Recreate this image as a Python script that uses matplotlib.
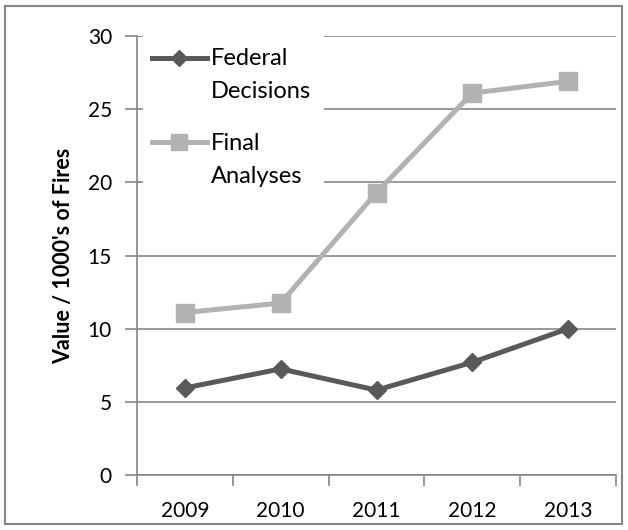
import matplotlib
matplotlib.use("Agg")
import matplotlib.pyplot as plt
from matplotlib.patches import Rectangle
from matplotlib.lines import Line2D

years = ["2009", "2010", "2011", "2012", "2013"]
federal_decisions = [5.95, 7.25, 5.8, 7.7, 10.0]
final_analyses = [11.1, 11.75, 19.3, 26.1, 26.9]
y_ticks = [0, 5, 10, 15, 20, 25, 30]
legend_labels = [["Federal", "Decisions"], ["Final", "Analyses"]]

dark = "#595959"
light = "#b2b2b2"
axis_grey = "#868686"

plt.rcParams["font.family"] = ["Lato", "DejaVu Sans"]

fig = plt.figure(figsize=(6.28, 5.30), dpi=100)
ax = fig.add_axes([137 / 628, 1 - 475 / 530, 479 / 628, 439 / 530])

x = list(range(len(years)))
ax.plot(x, federal_decisions, color=dark, lw=3.6, marker="D", ms=9.5, zorder=3)
ax.plot(x, final_analyses, color=light, lw=3.6, marker="s", ms=13, zorder=3)

ax.set_xlim(-0.5, len(years) - 0.5)
ax.set_ylim(0, 30)
ax.set_yticks(y_ticks)
ax.set_xticks(x)
ax.set_xticklabels(years, fontsize=15)
ax.set_xticks([i - 0.5 for i in range(len(years) + 1)], minor=True)
ax.tick_params(axis="x", which="major", length=0, pad=19)
ax.tick_params(axis="x", which="minor", length=8, color=axis_grey, width=1.2)
ax.tick_params(axis="y", length=9, color=axis_grey, width=1.2, labelsize=15, pad=9)
ax.yaxis.grid(True, color=axis_grey, lw=1.2)
ax.set_axisbelow(True)

for side in ["top", "right"]:
    ax.spines[side].set_visible(False)
for side in ["left", "bottom"]:
    ax.spines[side].set_color(axis_grey)
    ax.spines[side].set_linewidth(1.2)

ax.set_ylabel("Value / 1000's of Fires", fontsize=15.5, fontweight="bold", labelpad=10)

# legend drawn by hand so the handle sits on the first line of each label
tr = ax.transAxes
ax.add_patch(Rectangle((0.012, 0.64), 0.378, 0.38, transform=tr, facecolor="white",
                       edgecolor="none", zorder=4, clip_on=False))
handle_y = [0.95, 0.7585]
text_y = [(0.934, 0.859), (0.740, 0.665)]
styles = [(dark, "D", 8.5), (light, "s", 11)]
for (c, m, ms), hy, (l1, l2), (t1, t2) in zip(styles, handle_y, legend_labels, text_y):
    ax.add_line(Line2D([0.031, 0.146], [hy, hy], transform=tr, color=c, lw=3.6,
                       zorder=5, clip_on=False))
    ax.add_line(Line2D([0.088], [hy], transform=tr, color=c, marker=m, ms=ms,
                       zorder=5, clip_on=False))
    ax.text(0.154, t1, l1, transform=tr, fontsize=17, va="baseline", zorder=6)
    ax.text(0.154, t2, l2, transform=tr, fontsize=17, va="baseline", zorder=6)

fig.patches.append(Rectangle((5 / 628, 6 / 530), 617 / 628, 518 / 530,
                             transform=fig.transFigure, fill=False,
                             edgecolor=axis_grey, lw=1.5))

fig.savefig("out.png", dpi=100)
